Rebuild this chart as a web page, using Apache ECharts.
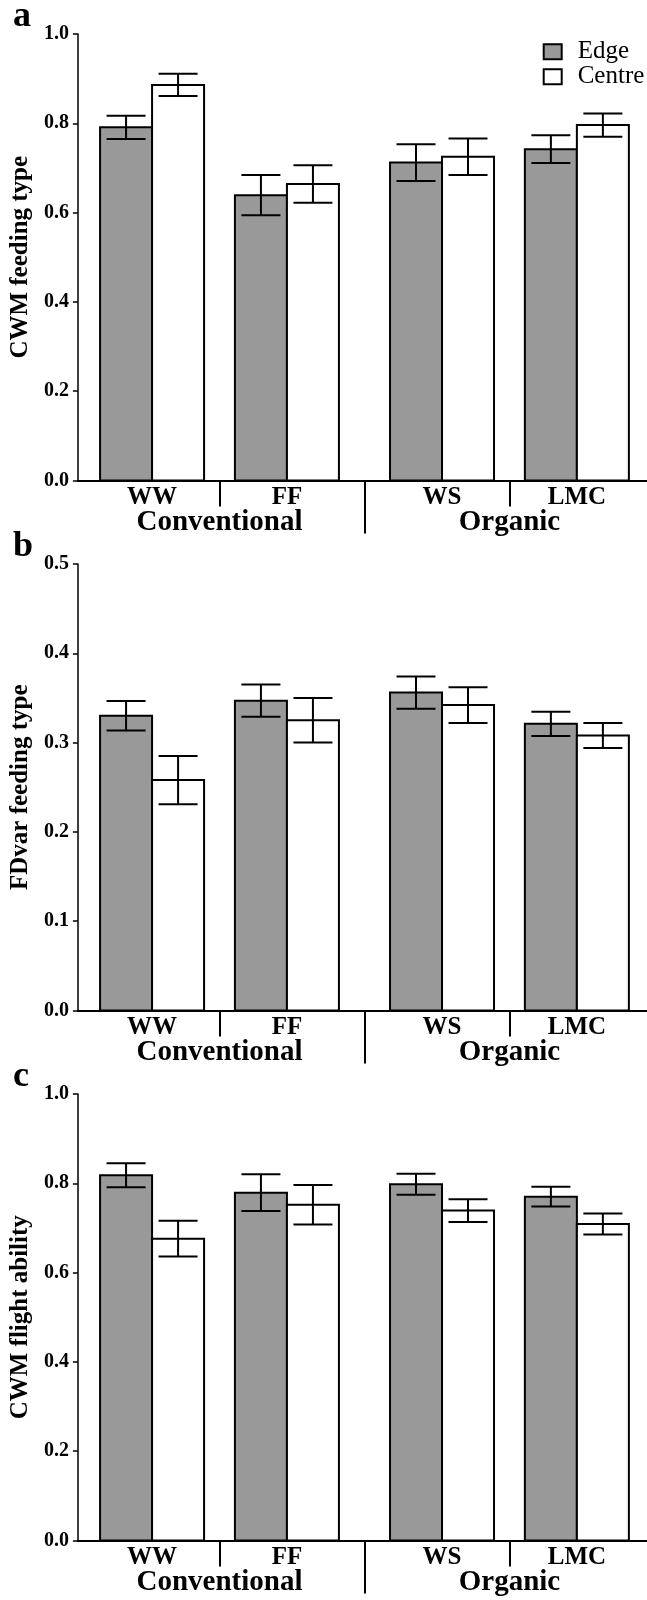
<!DOCTYPE html>
<html>
<head>
<meta charset="utf-8">
<script src="https://cdn.jsdelivr.net/npm/echarts@6/dist/echarts.min.js"></script>
<style>
  html, body { margin: 0; padding: 0; background: #ffffff; }
  #chart { width: 647px; height: 1600px; }
</style>
</head>
<body>
<div id="chart"></div>
<script>
// ---------------- data ----------------
const categories = ['WW', 'FF', 'WS', 'LMC'];
const systems = ['Conventional', 'Organic'];
const seriesNames = ['Edge', 'Centre'];

// panel a: CWM feeding type
const edgeA = [0.791, 0.639, 0.712, 0.742];
const edgeAErr = [0.026, 0.045, 0.041, 0.031];
const centreA = [0.886, 0.664, 0.725, 0.796];
const centreAErr = [0.025, 0.042, 0.041, 0.026];

// panel b: FDvar feeding type
const edgeB = [0.330, 0.347, 0.356, 0.321];
const edgeBErr = [0.0165, 0.018, 0.018, 0.0135];
const centreB = [0.258, 0.325, 0.342, 0.308];
const centreBErr = [0.027, 0.025, 0.020, 0.014];

// panel c: CWM flight ability
const edgeC = [0.818, 0.779, 0.798, 0.770];
const edgeCErr = [0.027, 0.041, 0.0235, 0.022];
const centreC = [0.676, 0.752, 0.739, 0.709];
const centreCErr = [0.040, 0.044, 0.0255, 0.0235];

const panelLetters = ['a', 'b', 'c'];
const axisTitles = ['CWM feeding type', 'FDvar feeding type', 'CWM flight ability'];
const axisMax = [1.0, 0.5, 1.0];
const axisStep = [0.2, 0.1, 0.2];

// ---------------- layout ----------------
const FONT = '"Liberation Serif", "Times New Roman", serif';
const SYSTEM_GAP = 0.15;           // extra space between the two farming systems
const groupPos = categories.map((c, i) => i + (i >= 2 ? SYSTEM_GAP : 0));
const sysPos = [(groupPos[0] + groupPos[1]) / 2, (groupPos[2] + groupPos[3]) / 2];
const sepPos = [0, 1, 2].map(i => (groupPos[i] + groupPos[i + 1]) / 2);
const X_MIN = -0.55, X_MAX = 3.67;
const BAR_W = 52, CAP_W = 39;
const GRID_TOPS = [34, 564, 1094];
const GRID_H = 446.5;
const GRID_LEFT = 77;
const EDGE_FILL = '#999999', CENTRE_FILL = '#ffffff';

function findIndex(arr, v) {
  let best = 0, d = Infinity;
  arr.forEach((p, i) => { const dd = Math.abs(p - v); if (dd < d) { d = dd; best = i; } });
  return best;
}

function makeRender(side, fill) {
  return function (params, api) {
    const x = api.value(0), m = api.value(1), e = api.value(2);
    const base = api.coord([x, 0]);
    const top = api.coord([x, m]);
    const hi = api.coord([x, m + e]);
    const lo = api.coord([x, m - e]);
    const x0 = side < 0 ? base[0] - BAR_W : base[0];
    const cx = x0 + BAR_W / 2;
    const h = CAP_W / 2;
    const ls = { stroke: '#000', lineWidth: 2 };
    return {
      type: 'group',
      children: [
        { type: 'rect', shape: { x: x0, y: top[1], width: BAR_W, height: base[1] - top[1] },
          style: { fill: fill, stroke: '#000', lineWidth: 2 } },
        { type: 'line', shape: { x1: cx, y1: hi[1], x2: cx, y2: lo[1] }, style: ls },
        { type: 'line', shape: { x1: cx - h, y1: hi[1], x2: cx + h, y2: hi[1] }, style: ls },
        { type: 'line', shape: { x1: cx - h, y1: lo[1], x2: cx + h, y2: lo[1] }, style: ls }
      ]
    };
  };
}

const panelData = [
  [edgeA, edgeAErr, centreA, centreAErr],
  [edgeB, edgeBErr, centreB, centreBErr],
  [edgeC, edgeCErr, centreC, centreCErr]
];

const grid = [], xAxis = [], yAxis = [], series = [], title = [];

panelData.forEach((pd, p) => {
  grid.push({ left: GRID_LEFT, right: 0, top: GRID_TOPS[p], height: GRID_H });
  title.push({
    text: panelLetters[p], left: 13, top: GRID_TOPS[p] - 35, padding: 0,
    textStyle: { fontFamily: FONT, fontSize: 36, fontWeight: 'bold', color: '#000' }
  });
  // main x axis: category labels + short separators
  xAxis.push({
    type: 'value', gridIndex: p, min: X_MIN, max: X_MAX, position: 'bottom',
    axisLine: { show: true, onZero: false, lineStyle: { color: '#000', width: 2 } },
    axisTick: { show: true, inside: false, length: 26, customValues: [sepPos[0], sepPos[2]],
                lineStyle: { color: '#000', width: 2 } },
    axisLabel: { show: true, customValues: groupPos, margin: 5,
                 formatter: v => categories[findIndex(groupPos, v)],
                 fontFamily: FONT, fontSize: 25, fontWeight: 'bold', color: '#000' },
    splitLine: { show: false }
  });
  // secondary x axis: system labels + long separator
  xAxis.push({
    type: 'value', gridIndex: p, min: X_MIN, max: X_MAX, position: 'bottom',
    axisLine: { show: true, onZero: false, lineStyle: { color: '#000', width: 2 } },
    axisTick: { show: true, inside: false, length: 53, customValues: [sepPos[1]],
                lineStyle: { color: '#000', width: 2 } },
    axisLabel: { show: true, customValues: sysPos, margin: 28,
                 formatter: v => systems[findIndex(sysPos, v)],
                 fontFamily: FONT, fontSize: 29, fontWeight: 'bold', color: '#000' },
    splitLine: { show: false }
  });
  yAxis.push({
    type: 'value', gridIndex: p, min: 0, max: axisMax[p], interval: axisStep[p],
    name: axisTitles[p], nameLocation: 'middle', nameGap: 42,
    nameTextStyle: { fontFamily: FONT, fontSize: 25, fontWeight: 'bold', color: '#000' },
    axisLine: { show: true, onZero: false, lineStyle: { color: '#000', width: 1.5 } },
    axisTick: { show: true, inside: false, length: 5, lineStyle: { color: '#000', width: 1.5 } },
    axisLabel: { margin: 9, formatter: v => v.toFixed(1),
                 fontFamily: FONT, fontSize: 20, fontWeight: 'bold', color: '#000' },
    splitLine: { show: false }
  });
  const [e, eErr, c, cErr] = pd;
  series.push({
    type: 'custom', name: seriesNames[0], xAxisIndex: 2 * p, yAxisIndex: p,
    itemStyle: { color: EDGE_FILL, borderColor: '#000', borderWidth: 2 },
    encode: { x: 0, y: 1 }, clip: false,
    renderItem: makeRender(-1, EDGE_FILL),
    data: groupPos.map((g, i) => [g, e[i], eErr[i]])
  });
  series.push({
    type: 'custom', name: seriesNames[1], xAxisIndex: 2 * p, yAxisIndex: p,
    itemStyle: { color: CENTRE_FILL, borderColor: '#000', borderWidth: 2 },
    encode: { x: 0, y: 1 }, clip: false,
    renderItem: makeRender(1, CENTRE_FILL),
    data: groupPos.map((g, i) => [g, c[i], cErr[i]])
  });
});

const chart = echarts.init(document.getElementById('chart'), null, { renderer: 'canvas' });
chart.setOption({
  backgroundColor: '#ffffff',
  animation: false,
  title: title,
  legend: {
    orient: 'vertical', left: 542.7, top: 39.3, padding: 0, itemGap: 0,
    itemWidth: 18, itemHeight: 15, icon: 'rect',
    textStyle: { fontFamily: FONT, fontSize: 25, color: '#000', padding: [0, 0, 0, 11] },
    data: [
      { name: seriesNames[0], itemStyle: { color: EDGE_FILL, borderColor: '#000', borderWidth: 2 } },
      { name: seriesNames[1], itemStyle: { color: CENTRE_FILL, borderColor: '#000', borderWidth: 2 } }
    ]
  },
  grid: grid,
  xAxis: xAxis,
  yAxis: yAxis,
  series: series
});
</script>
</body>
</html>
